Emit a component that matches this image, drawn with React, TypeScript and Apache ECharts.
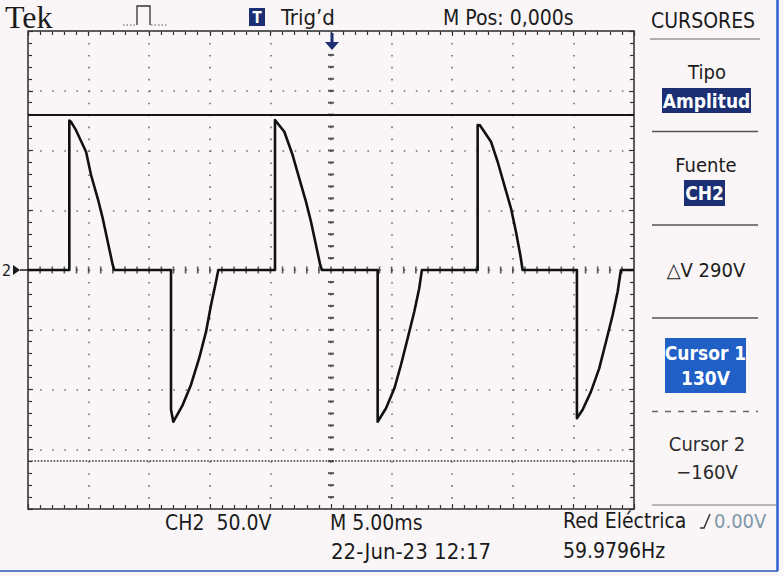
import React, { useEffect, useRef } from "react";
import * as echarts from "echarts";

// Trace of CH2 (time in ms, voltage in V)
const traceTime = [
  0, 3.41, 3.41, 3.55, 3.96, 4.79, 5.2, 5.75, 6.16, 6.58, 6.99, 7.12,
  11.8, 11.8, 11.99, 12.76, 13.45, 14.13, 14.69, 15.1, 15.51, 15.7,
  20.38, 20.38, 21.15, 21.84, 22.38, 22.94, 23.35, 23.76, 24.11, 24.26,
  28.85, 28.85, 29.54, 30.23, 30.77, 31.33, 31.87, 32.28, 32.5,
  37.1, 37.1, 37.3, 38.2, 38.75, 39.3, 39.85, 40.26, 40.62, 40.81,
  45.29, 45.29, 45.76, 46.45, 47.13, 47.69, 48.24, 48.65, 48.92, 50,
];
const traceVolts = [
  0, 0, 125, 124, 117, 99, 79.5, 60, 43.5, 23.7, 4.2, 0,
  0, -117, -127, -113, -96, -73.6, -51.6, -29.3, -9.8, 0,
  0, 125.5, 115.7, 96, 76.7, 57, 40.4, 21, 4.2, 0,
  0, -127, -115.7, -99, -79.5, -57, -34.9, -15.3, 0,
  0, 121.3, 121, 107.4, 90.6, 71, 51.6, 32, 12.6, 0,
  0, -124, -117, -101.8, -82.3, -60, -37.7, -18.2, 0, 0,
];
const cursorValues = [130, -160];

// Screen settings
const timeRange = [0, 50]; // 5.00 ms/div, 10 div
const voltRange = [-200, 200]; // 50.0 V/div, 8 div
const timeDiv = 5;
const voltDiv = 50;

const menuTexts = {
  header: "CURSORES",
  tipo: "Tipo",
  tipoVal: "Amplitud",
  fuente: "Fuente",
  fuenteVal: "CH2",
  delta: "△V 290V",
  c1: "Cursor 1",
  c1Val: "130V",
  c2: "Cursor 2",
  c2Val: "−160V",
};
const bottomTexts = {
  ch: "CH2  50.0V",
  time: "M 5.00ms",
  trig: "Red Eléctrica",
  trigLevel: "0.00V",
  date: "22-Jun-23 12:17",
  freq: "59.9796Hz",
};

const FONT = '"DejaVu Sans Condensed", "Liberation Sans Narrow", "Roboto Condensed", Roboto, sans-serif';
const INK = "#1b1b1b";
const NAVY = "#1b2f72";

export default function App() {
  const ref = useRef<HTMLDivElement>(null);
  useEffect(() => {
    if (!ref.current) return;
    const chart = echarts.init(ref.current, null, { renderer: "svg" });

    const trace = traceTime.map((t, i) => [t, traceVolts[i]]);
    // graticule centre-line marks every 1/5 division
    const hMarks: number[][] = [];
    for (let t = timeRange[0] + timeDiv / 5; t < timeRange[1] - 1e-6; t += timeDiv / 5) hMarks.push([t, 0]);
    const vMarks: number[][] = [];
    const midT = (timeRange[0] + timeRange[1]) / 2;
    for (let v = voltRange[0] + voltDiv / 5; v < voltRange[1] - 1e-6; v += voltDiv / 5) vMarks.push([midT, v]);

    const tickCommon = {
      axisLine: { show: false, onZero: false },
      axisTick: { show: true, inside: true, length: 5, lineStyle: { color: "#333", width: 1.2 } },
      minorTick: { show: true, splitNumber: 5, length: 4, lineStyle: { color: "#333", width: 1.2 } },
      axisLabel: { show: false },
    };

    const t = (text: string, x: number, y: number, size: number, extra: any = {}) => ({
      type: "text",
      x,
      y,
      z: 100,
      style: {
        text,
        fill: extra.fill || INK,
        fontSize: size,
        fontFamily: extra.family || FONT,
        fontWeight: extra.weight || "normal",
        align: extra.align || "left",
        verticalAlign: "middle",
      },
    });
    const hline = (x1: number, x2: number, y: number, color = "#555", width = 1.5, dash: any = null) => ({
      type: "line",
      z: 100,
      shape: { x1, y1: y, x2, y2: y },
      style: { stroke: color, lineWidth: width, lineDash: dash },
    });

    chart.setOption({
      animation: false,
      backgroundColor: "#faf6f8",
      grid: {
        left: 28,
        top: 31,
        width: 606,
        height: 478,
        show: true,
        borderColor: "#2a2a2a",
        borderWidth: 1.5,
      },
      xAxis: [
        {
          type: "value",
          min: timeRange[0],
          max: timeRange[1],
          interval: timeDiv,
          position: "bottom",
          ...tickCommon,
          splitLine: { show: true, lineStyle: { color: "#707070", width: 1.6, type: [1.6, 10.35] } },
        },
        {
          type: "value",
          min: timeRange[0],
          max: timeRange[1],
          interval: timeDiv,
          position: "top",
          ...tickCommon,
          splitLine: { show: false },
        },
      ],
      yAxis: [
        {
          type: "value",
          min: voltRange[0],
          max: voltRange[1],
          interval: voltDiv,
          position: "left",
          ...tickCommon,
          splitLine: { show: true, lineStyle: { color: "#707070", width: 1.6, type: [1.6, 10.52] } },
        },
        {
          type: "value",
          min: voltRange[0],
          max: voltRange[1],
          interval: voltDiv,
          position: "right",
          ...tickCommon,
          splitLine: { show: false },
        },
      ],
      series: [
        {
          type: "scatter",
          silent: true,
          data: hMarks,
          symbol: "rect",
          symbolSize: [1.6, 7],
          itemStyle: { color: "#333" },
          z: 1,
        },
        {
          type: "scatter",
          silent: true,
          data: vMarks,
          symbol: "rect",
          symbolSize: [6, 2],
          itemStyle: { color: "#333" },
          z: 1,
        },
        {
          type: "line",
          data: trace,
          symbol: "none",
          z: 5,
          lineStyle: { color: "#111", width: 2.6, join: "round" },
          markLine: {
            silent: true,
            symbol: "none",
            label: { show: false },
            data: [
              { yAxis: cursorValues[0], lineStyle: { color: "#151515", width: 2, type: "solid" } },
              { yAxis: cursorValues[1], lineStyle: { color: "#333", width: 1.6, type: [1.6, 1.6] } },
            ],
          },
        },
      ],
      graphic: [
        // top bar
        t("Tek", 5, 17, 32, { family: '"Liberation Serif", "DejaVu Serif", serif' }),
        {
          type: "polyline",
          z: 100,
          shape: { points: [[137, 25], [137, 6], [150, 6], [150, 25]] },
          style: { stroke: "#333", lineWidth: 1.3, fill: null },
        },
        hline(123, 136, 25, "#555", 1.2, [1.5, 2]),
        hline(151, 167, 25, "#555", 1.2, [1.5, 2]),
        { type: "rect", z: 100, shape: { x: 249, y: 8, width: 16, height: 18 }, style: { fill: NAVY } },
        t("T", 257, 17.5, 15, { fill: "#fff", weight: "bold", align: "center" }),
        t("Trig’d", 281, 17, 22),
        t("M Pos: 0,000s", 443, 18, 21),
        t(menuTexts.header, 651, 21, 21),
        hline(650, 760, 39, "#666", 1.2),
        // trigger position arrow
        { type: "rect", z: 100, shape: { x: 330.5, y: 33, width: 3, height: 10 }, style: { fill: NAVY } },
        { type: "polygon", z: 100, shape: { points: [[325, 42], [339, 42], [332, 50]] }, style: { fill: NAVY } },
        // channel marker
        t("2", 2, 270, 16),
        { type: "polygon", z: 100, shape: { points: [[13, 265], [20, 270], [13, 275]] }, style: { fill: INK } },
        hline(20, 28, 270, INK, 1.5),
        // menu
        t(menuTexts.tipo, 707, 72, 20, { align: "center" }),
        { type: "rect", z: 100, shape: { x: 662, y: 88, width: 89, height: 25 }, style: { fill: NAVY } },
        t(menuTexts.tipoVal, 706.5, 100.5, 19, { fill: "#fff", weight: "bold", align: "center" }),
        hline(652, 758, 131.5),
        t(menuTexts.fuente, 706, 165, 20, { align: "center" }),
        { type: "rect", z: 100, shape: { x: 684, y: 180, width: 41, height: 26 }, style: { fill: NAVY } },
        t(menuTexts.fuenteVal, 704.5, 193, 19, { fill: "#fff", weight: "bold", align: "center" }),
        hline(652, 758, 225),
        t(menuTexts.delta, 706, 270, 20, { align: "center" }),
        hline(652, 758, 318),
        { type: "rect", z: 100, shape: { x: 665, y: 338, width: 81, height: 55 }, style: { fill: "#1f5fc6" } },
        t(menuTexts.c1, 705.5, 353, 19, { fill: "#fff", weight: "bold", align: "center" }),
        t(menuTexts.c1Val, 705.5, 378, 19, { fill: "#fff", weight: "bold", align: "center" }),
        hline(652, 758, 411.5, "#666", 1.5, [6, 7]),
        t(menuTexts.c2, 707, 444, 20, { align: "center", fill: "#2c2c2c" }),
        t(menuTexts.c2Val, 707, 472, 20, { align: "center", fill: "#2c2c2c" }),
        hline(652, 776, 505, "#777", 1.2),
        // bottom bar
        t(bottomTexts.ch, 165, 523, 21),
        t(bottomTexts.time, 330, 523, 21),
        t(bottomTexts.trig, 563, 521, 21),
        {
          type: "polyline",
          z: 100,
          shape: { points: [[700, 528], [704, 528], [710, 514]] },
          style: { stroke: "#333", lineWidth: 1.5, fill: null },
        },
        t(bottomTexts.trigLevel, 714, 521, 20, { fill: "#7f98a8" }),
        t(bottomTexts.date, 331, 551, 22),
        t(bottomTexts.freq, 563, 551, 21),
        // screen frame
        { type: "line", z: 110, shape: { x1: 777.5, y1: 0, x2: 777.5, y2: 571 }, style: { stroke: "#2c5fd0", lineWidth: 2.5 } },
        hline(0, 778, 571, "#5b7fc8", 2),
      ],
    });
    return () => chart.dispose();
  }, []);
  return (
    <div
      ref={ref}
      style={{ position: "fixed", left: 0, top: 0, width: 784, height: 576 }}
    />
  );
}
